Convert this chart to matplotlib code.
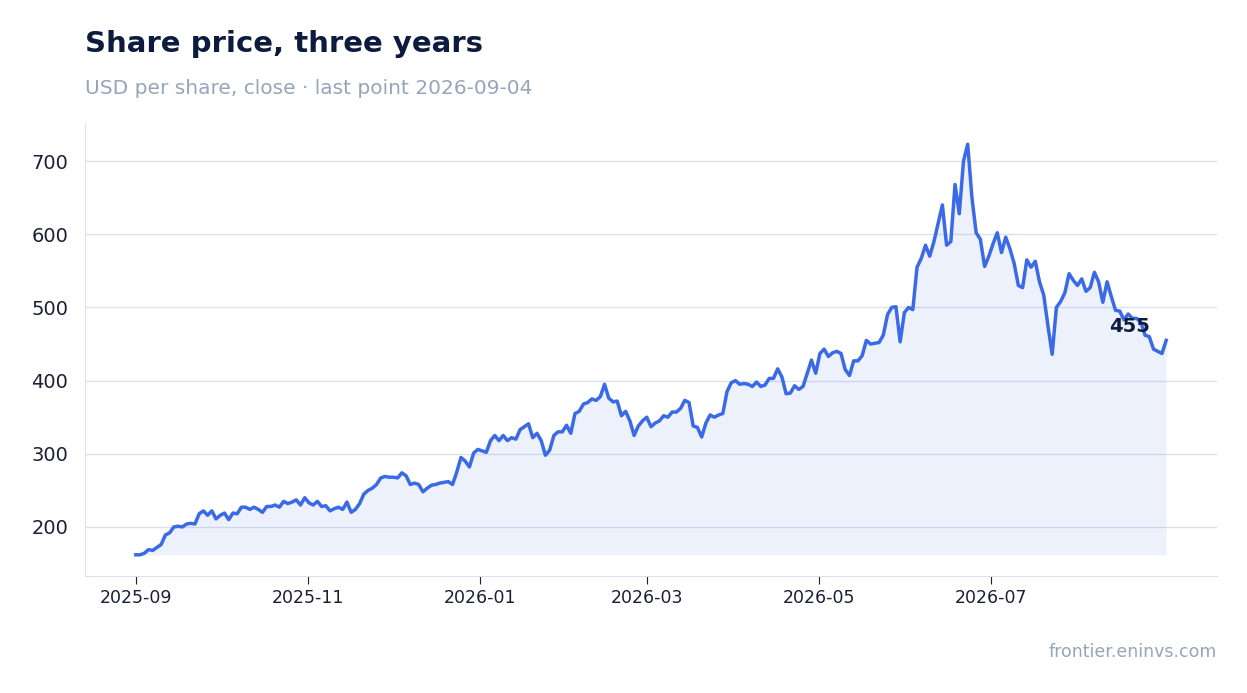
import matplotlib.pyplot as plt
import matplotlib.dates as mdates
import pandas as pd
import numpy as np

# close prices, first to last
prices = [162,162,164,169,168,172,176,189,192,200,201,200,204,205,204,218,222,216,222,211,
          216,219,210,219,218,227,227,224,227,224,220,228,228,230,227,235,232,234,237,230,
          240,233,230,235,228,229,222,225,227,224,234,220,224,232,245,250,253,258,267,269,
          268,268,267,274,270,258,260,258,248,253,257,258,260,261,262,258,275,295,290,282,
          301,306,304,302,318,325,318,325,318,322,320,333,337,341,322,328,318,298,305,325,
          330,330,339,328,355,358,368,370,375,373,378,395,376,371,372,352,358,345,325,338,
          345,350,337,342,345,352,350,357,357,362,373,370,338,336,323,342,353,350,353,355,
          385,397,400,395,396,395,392,398,392,394,403,403,416,405,382,383,393,388,392,410,
          428,410,437,443,433,438,440,437,415,407,427,427,434,455,450,451,452,462,490,500,
          501,453,493,500,497,555,567,585,570,590,615,640,585,590,668,628,700,723,650,602,
          593,556,570,587,602,575,596,580,560,530,527,565,555,563,535,517,475,436,500,508,
          520,546,537,530,539,522,527,548,535,507,535,515,496,495,483,491,485,485,480,462,
          460,443,440,437,455]
start = pd.Timestamp('2025-09-01')
end = pd.Timestamp('2026-09-01')
dates = pd.date_range(start, end, periods=len(prices))
tick_dates = pd.to_datetime(['2025-09-01', '2025-11-01', '2026-01-01', '2026-03-01', '2026-05-01', '2026-07-01'])

line_c = '#3a6ae8'
fig = plt.figure(figsize=(12.47, 6.93), dpi=100)
ax = fig.add_axes([85/1247, 1-576/693, (1217-85)/1247, (576-123)/693])

ax.plot(dates, prices, color=line_c, lw=2.5, zorder=3)
ax.fill_between(dates, prices, min(prices), color=line_c, alpha=0.09, lw=0)
ax.annotate(str(prices[-1]), (dates[-1], prices[-1]), xytext=(-12, 10), textcoords='offset points',
            ha='right', va='center', fontsize=14, fontweight='bold', color='#0d1b3e')

ax.set_xlim(start - pd.Timedelta(days=18), start + pd.Timedelta(days=383))
ax.set_ylim(133, 752)
ax.set_yticks([200, 300, 400, 500, 600, 700])
ax.set_xticks(tick_dates)
ax.xaxis.set_major_formatter(mdates.DateFormatter('%Y-%m'))
ax.grid(axis='y', color='#dde1ee', lw=1)
ax.set_axisbelow(True)
for s in ['top', 'right']:
    ax.spines[s].set_visible(False)
for s in ['left', 'bottom']:
    ax.spines[s].set_color('#dde1ee')
ax.tick_params(axis='y', length=0, labelsize=14, colors='#1a1f36', pad=12)
ax.tick_params(axis='x', length=6, color='#1a1f36', labelsize=12.5, colors='#1a1f36')

fig.text(85/1247, 1-44/693, 'Share price, three years', fontsize=21, fontweight='bold',
         color='#0d1b3e', va='center')
fig.text(85/1247, 1-88/693, 'USD per share, close · last point 2026-09-04', fontsize=14.5,
         color='#98a4b8', va='center')
fig.text(1217/1247, 1-652/693, 'frontier.eninvs.com', fontsize=12.5, color='#98a4b8',
         ha='right', va='center')

fig.savefig('out.png', dpi=100)
